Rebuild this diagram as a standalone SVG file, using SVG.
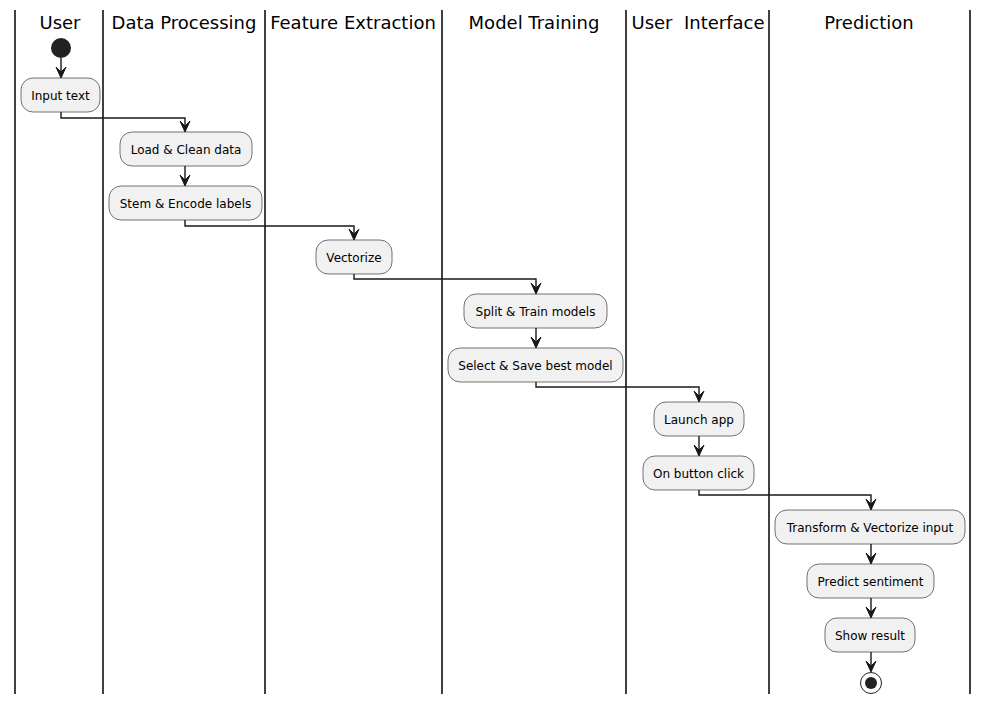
<svg xmlns="http://www.w3.org/2000/svg" width="988" height="705" viewBox="0 0 988 705">
<style>
.lane{stroke:#000;stroke-width:1.5}
.title{font-family:"DejaVu Sans",sans-serif;font-size:18px;fill:#000;text-anchor:middle}
.box{fill:#F1F1F1;stroke:#181818;stroke-width:0.6}
.lbl{font-family:"DejaVu Sans",sans-serif;font-size:12px;fill:#000;text-anchor:middle}
.c{fill:none;stroke:#181818;stroke-width:1.4}
.ah{fill:#181818;stroke:#181818;stroke-width:1}
</style>
<rect width="988" height="705" fill="#fff"/>
<g id="lanes">
<line class="lane" x1="15" y1="10" x2="15" y2="694"/>
<line class="lane" x1="103" y1="10" x2="103" y2="694"/>
<line class="lane" x1="265" y1="10" x2="265" y2="694"/>
<line class="lane" x1="442" y1="10" x2="442" y2="694"/>
<line class="lane" x1="626" y1="10" x2="626" y2="694"/>
<line class="lane" x1="769" y1="10" x2="769" y2="694"/>
<line class="lane" x1="970" y1="10" x2="970" y2="694"/>
<text class="title" x="60" y="29">User</text>
<text class="title" x="184" y="29">Data Processing</text>
<text class="title" x="353" y="29">Feature Extraction</text>
<text class="title" x="534" y="29">Model Training</text>
<text class="title" x="698" y="29" xml:space="preserve">User  Interface</text>
<text class="title" x="869" y="29">Prediction</text>
</g>
<g id="connectors">
<line class="c" x1="61" y1="58" x2="61" y2="77"/>
<polygon class="ah" points="56,67 61,78 66,67 61,72"/>
<polyline class="c" points="61,112 61,118 185,118 185,131"/>
<polygon class="ah" points="180,121 185,132 190,121 185,126"/>
<line class="c" x1="185" y1="166" x2="185" y2="185"/>
<polygon class="ah" points="180,175 185,186 190,175 185,180"/>
<polyline class="c" points="185,220 185,226 354,226 354,239"/>
<polygon class="ah" points="349,229 354,240 359,229 354,234"/>
<polyline class="c" points="354,274 354,279 536,279 536,293"/>
<polygon class="ah" points="531,283 536,294 541,283 536,288"/>
<line class="c" x1="536" y1="328" x2="536" y2="347"/>
<polygon class="ah" points="531,337 536,348 541,337 536,342"/>
<polyline class="c" points="536,382 536,387 699,387 699,401"/>
<polygon class="ah" points="694,391 699,402 704,391 699,396"/>
<line class="c" x1="699" y1="436" x2="699" y2="455"/>
<polygon class="ah" points="694,445 699,456 704,445 699,450"/>
<polyline class="c" points="699,490 699,495 871,495 871,509"/>
<polygon class="ah" points="866,499 871,510 876,499 871,504"/>
<line class="c" x1="871" y1="544" x2="871" y2="563"/>
<polygon class="ah" points="866,553 871,564 876,553 871,558"/>
<line class="c" x1="871" y1="598" x2="871" y2="617"/>
<polygon class="ah" points="866,607 871,618 876,607 871,612"/>
<line class="c" x1="871" y1="652" x2="871" y2="671"/>
<polygon class="ah" points="866,661 871,672 876,661 871,666"/>
</g>
<g id="start"><circle cx="61" cy="48" r="10" fill="#222"/></g>
<g id="n1"><rect class="box" x="21" y="78" width="79" height="34" rx="12" ry="12"/><text class="lbl" x="60.5" y="100">Input text</text></g>
<g id="n2"><rect class="box" x="120" y="132" width="132" height="34" rx="12" ry="12"/><text class="lbl" x="186" y="154">Load &amp; Clean data</text></g>
<g id="n3"><rect class="box" x="109" y="186" width="153" height="34" rx="12" ry="12"/><text class="lbl" x="185.5" y="208">Stem &amp; Encode labels</text></g>
<g id="n4"><rect class="box" x="316" y="240" width="76" height="34" rx="12" ry="12"/><text class="lbl" x="354" y="262">Vectorize</text></g>
<g id="n5"><rect class="box" x="464" y="294" width="143" height="34" rx="12" ry="12"/><text class="lbl" x="535.5" y="316">Split &amp; Train models</text></g>
<g id="n6"><rect class="box" x="448" y="348" width="175" height="34" rx="12" ry="12"/><text class="lbl" x="535.5" y="370">Select &amp; Save best model</text></g>
<g id="n7"><rect class="box" x="654" y="402" width="90" height="34" rx="12" ry="12"/><text class="lbl" x="699" y="424">Launch app</text></g>
<g id="n8"><rect class="box" x="643" y="456" width="111" height="34" rx="12" ry="12"/><text class="lbl" x="698.5" y="478">On button click</text></g>
<g id="n9"><rect class="box" x="775" y="510" width="190" height="34" rx="12" ry="12"/><text class="lbl" x="870" y="532">Transform &amp; Vectorize input</text></g>
<g id="n10"><rect class="box" x="807" y="564" width="127" height="34" rx="12" ry="12"/><text class="lbl" x="870.5" y="586">Predict sentiment</text></g>
<g id="n11"><rect class="box" x="825" y="618" width="90" height="34" rx="12" ry="12"/><text class="lbl" x="870" y="640">Show result</text></g>
<g id="end"><circle cx="871" cy="683" r="10.5" fill="#fff" stroke="#222" stroke-width="1"/><circle cx="871" cy="683" r="6" fill="#222"/></g>
</svg>
